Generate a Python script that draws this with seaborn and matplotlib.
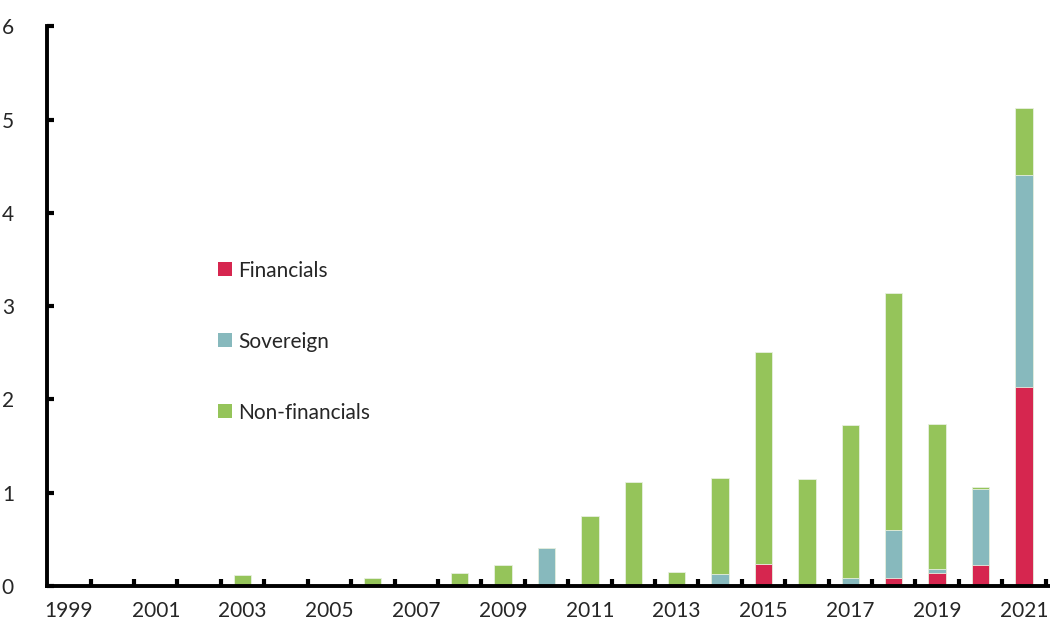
import numpy as np
import pandas as pd
import matplotlib
matplotlib.use("Agg")
import matplotlib.pyplot as plt
import seaborn as sns
from matplotlib.patches import Patch
from matplotlib.ticker import FixedLocator

years = [str(y) for y in range(1999, 2022)]

# values (stacked: financials, sovereign, non-financials)
financials = [0, 0, 0, 0, 0, 0, 0, 0, 0, 0, 0, 0, 0, 0, 0, 0, 0.24, 0, 0, 0.08, 0.14, 0.22, 2.13]
sovereign = [0, 0, 0, 0, 0, 0, 0, 0, 0, 0, 0, 0.41, 0, 0, 0, 0.13, 0, 0, 0.09, 0.52, 0.04, 0.82, 2.28]
non_financials = [0, 0, 0, 0, 0.12, 0, 0, 0.09, 0, 0.14, 0.22, 0, 0.75, 1.11, 0.15, 1.03,
                  2.27, 1.15, 1.64, 2.54, 1.56, 0.02, 0.71]

labels = ["Financials", "Sovereign", "Non-financials"]
colors = ["#D6264F", "#87B9BD", "#95C45A"]

df = pd.DataFrame({"year": years, "fin": financials, "sov": sovereign, "nonfin": non_financials})
df["sov_cum"] = df["fin"] + df["sov"]
df["total"] = df["sov_cum"] + df["nonfin"]

sns.set_style("white")
plt.rcParams["font.family"] = ["Lato", "DejaVu Sans"]

fig = plt.figure(figsize=(10.5, 6.26), dpi=100)
ax = fig.add_axes([0.045, 0.064, 0.955, 0.894])

# layered drawing: total first, then cumulative parts on top
for col, c in zip(["total", "sov_cum", "fin"], colors[::-1]):
    sns.barplot(data=df, x="year", y=col, order=years, color=c, width=0.4,
                edgecolor="#E8F0E0", linewidth=0.6, ax=ax, saturation=1)

ax.set_xlim(-0.5, 22.6)
ax.set_ylim(0, 6)
ax.set_xlabel("")
ax.set_ylabel("")

ax.set_xticks(range(0, len(years), 2))
ax.set_xticklabels(years[::2])
ax.xaxis.set_minor_locator(FixedLocator(np.arange(0.5, 23, 1)))
ax.tick_params(axis="x", which="major", bottom=True, length=0, pad=11, labelsize=15)
ax.tick_params(axis="x", which="minor", bottom=True, direction="in", length=5, width=3, color="black")
ax.set_yticks(range(0, 7))
ax.tick_params(axis="y", left=True, direction="in", length=5, width=3, color="black",
               pad=24, labelsize=15)

sns.despine(ax=ax)
for s in ["left", "bottom"]:
    ax.spines[s].set_linewidth(2.8)
    ax.spines[s].set_color("black")

handles = [Patch(facecolor=c, edgecolor="none") for c in colors]
ax.legend(handles, labels, loc="upper left", bbox_to_anchor=(0.16, 0.60), frameon=False,
          fontsize=15, handlelength=0.65, handleheight=0.65, handletextpad=0.3,
          labelspacing=2.45, borderpad=0)

fig.savefig("out.png", dpi=100)
